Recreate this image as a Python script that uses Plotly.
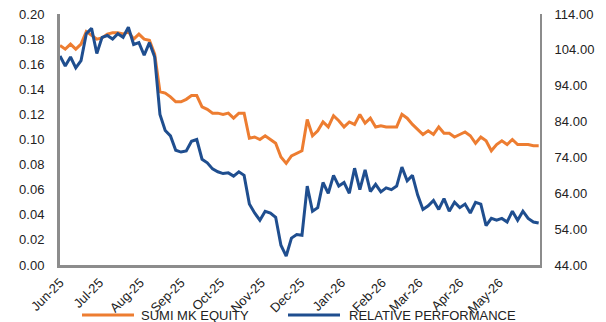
import pandas as pd
import plotly.graph_objects as go

# Dates: sampled every 4 days from 1 Jun 2025
dates = pd.date_range("2025-06-01", periods=92, freq="4D")

sumi_mk_equity = [
    0.175, 0.172, 0.176, 0.172, 0.176, 0.186, 0.183, 0.180, 0.181, 0.184,
    0.185, 0.185, 0.184, 0.186, 0.180, 0.184, 0.180, 0.179, 0.168, 0.138,
    0.137, 0.134, 0.130, 0.130, 0.132, 0.135, 0.135, 0.126, 0.124, 0.121,
    0.121, 0.120, 0.121, 0.117, 0.121, 0.121, 0.101, 0.102, 0.100, 0.103,
    0.100, 0.097, 0.086, 0.081, 0.087, 0.089, 0.091, 0.116, 0.103, 0.107,
    0.114, 0.110, 0.119, 0.115, 0.110, 0.114, 0.112, 0.120, 0.113, 0.117,
    0.110, 0.111, 0.110, 0.110, 0.110, 0.120, 0.117, 0.112, 0.108, 0.104,
    0.107, 0.104, 0.110, 0.105, 0.105, 0.102, 0.104, 0.106, 0.103, 0.097,
    0.102, 0.099, 0.091, 0.096, 0.099, 0.096, 0.100, 0.096, 0.096, 0.096,
    0.095, 0.095,
]

relative_performance = [
    102.3, 99.5, 102.0, 99.0, 101.0, 108.5, 110.0, 103.0, 107.5, 108.0,
    107.0, 108.5, 107.5, 110.3, 105.5, 106.0, 102.5, 106.0, 102.0, 86.0,
    81.5, 80.0, 76.0, 75.5, 75.8, 78.5, 79.0, 73.5, 72.5, 70.8,
    70.0, 69.5, 69.7, 68.8, 70.0, 69.0, 61.0, 58.5, 56.5, 59.0,
    58.5, 57.3, 49.5, 46.5, 51.5, 52.5, 52.3, 66.0, 59.0, 60.0,
    67.0, 64.0, 69.0, 66.0, 67.0, 64.0, 71.0, 65.0, 70.5, 64.5,
    66.5, 64.4, 65.5, 65.0, 66.0, 71.3, 67.5, 69.0, 63.5, 59.5,
    60.5, 62.0, 59.5, 62.5, 59.0, 61.5, 60.0, 61.0, 58.5, 61.5,
    61.0, 55.0, 57.0, 56.5, 57.0, 56.0, 59.0, 56.5, 59.0, 57.0,
    56.0, 55.7,
]

series_names = ["SUMI MK EQUITY", "RELATIVE PERFORMANCE"]

month_ticks = pd.date_range("2025-06-01", periods=12, freq="MS")
month_labels = ["Jun-25", "Jul-25", "Aug-25", "Sep-25", "Oct-25", "Nov-25",
                "Dec-25", "Jan-26", "Feb-26", "Mar-26", "Apr-26", "May-26"]

left_ticks = [0.00, 0.02, 0.04, 0.06, 0.08, 0.10, 0.12, 0.14, 0.16, 0.18, 0.20]
right_ticks = [44, 54, 64, 74, 84, 94, 104, 114]

ORANGE = "#ED7D31"
BLUE = "#1F4E8F"
AXIS = "#8C8C8C"
TEXT = "#222222"
FONT = "Liberation Sans, Arial, sans-serif"

W, H = 606, 322
ML, MR, MT, MB = 60, 66, 14, 57
PW, PH = W - ML - MR, H - MT - MB


def px_x(px):
    return (px - ML) / PW


def px_y(py):
    return (H - MB - py) / PH


fig = go.Figure()
fig.add_trace(go.Scatter(x=dates, y=sumi_mk_equity, name=series_names[0],
                         mode="lines", line=dict(color=ORANGE, width=3),
                         yaxis="y"))
fig.add_trace(go.Scatter(x=dates, y=relative_performance, name=series_names[1],
                         mode="lines", line=dict(color=BLUE, width=3),
                         yaxis="y2"))

# Legend drawn below the chart (line sample + label)
legend_items = [(series_names[0], ORANGE, 82, 134, 139),
                (series_names[1], BLUE, 288, 340, 347)]
shapes, annotations = [], []
ly = px_y(315)
for name, color, x0, x1, tx in legend_items:
    shapes.append(dict(type="line", xref="paper", yref="paper",
                       x0=px_x(x0), x1=px_x(x1), y0=ly, y1=ly,
                       line=dict(color=color, width=3)))
    annotations.append(dict(text=name, xref="paper", yref="paper",
                            x=px_x(tx), y=ly, xanchor="left", yanchor="middle",
                            showarrow=False,
                            font=dict(size=13, color=TEXT, family=FONT)))

fig.update_layout(
    width=W, height=H,
    margin=dict(l=ML, r=MR, t=MT, b=MB),
    paper_bgcolor="white", plot_bgcolor="white",
    font=dict(family=FONT, size=13, color=TEXT),
    showlegend=False,
    shapes=shapes, annotations=annotations,
    xaxis=dict(type="date", range=["2025-06-01", "2026-06-01"],
               tickvals=month_ticks, ticktext=month_labels, tickangle=-45,
               showgrid=False, zeroline=False, showline=True,
               linecolor=AXIS, linewidth=3, ticks="", automargin=False,
               ticklabelstandoff=2, tickfont=dict(size=13)),
    yaxis=dict(range=[0, 0.2], tickvals=left_ticks, tickformat=".2f",
               showgrid=False, zeroline=False, showline=True,
               linecolor=AXIS, linewidth=3, ticks="", ticklabelstandoff=10,
               automargin=False, tickfont=dict(size=13)),
    yaxis2=dict(range=[44, 114], tickvals=right_ticks, tickformat=".2f",
                overlaying="y", side="right",
                showgrid=False, zeroline=False, showline=True,
                linecolor=AXIS, linewidth=2, ticks="", ticklabelstandoff=10,
                automargin=False, tickfont=dict(size=13)),
)

fig.write_html("out.html")
